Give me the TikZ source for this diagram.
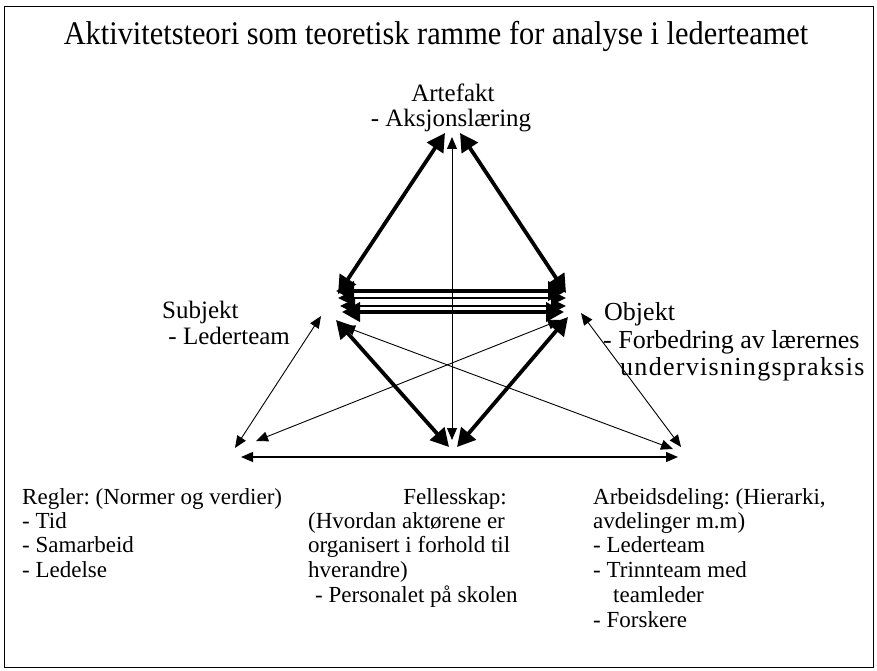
\documentclass[tikz,border=0pt]{standalone}
\usepackage{fontspec}
\setmainfont{Liberation Serif}
\usetikzlibrary{arrows.meta}
\frenchspacing
\begin{document}
\begin{tikzpicture}[x=1pt,y=-1pt,
  bigtip/.tip={Triangle[length=18pt,width=19pt]},
  midtip/.tip={Triangle[length=15pt,width=14pt]},
  smalltip/.tip={Triangle[length=12pt,width=10pt]},
  heavy/.style={line width=3.8pt,bigtip-bigtip},
  medium/.style={line width=2pt,midtip-midtip},
  light/.style={line width=0.9pt,smalltip-smalltip},
  lbl/.style={anchor=base west,inner sep=0pt,font=\fontsize{23}{25}\selectfont},
  clbl/.style={anchor=base,inner sep=0pt,font=\fontsize{23}{25}\selectfont},
  cornerfont/.style={font=\fontsize{25}{27}\selectfont}]
\useasboundingbox (0,0) rectangle (877,671);
\draw[line width=0.8pt] (4,6) rectangle (873,667);

% title and corner labels
\node[clbl,font=\fontsize{33}{36}\selectfont] (title) at (436,45) {\scalebox{0.92}[1]{Aktivitetsteori som teoretisk ramme for analyse i lederteamet}};
\node[clbl,cornerfont] (art) at (453,102) {Artefakt};
\node[clbl,cornerfont] (artb) at (451,127) {- Aksjonslæring};
\node[lbl,cornerfont] (subj) at (162,318) {Subjekt};
\node[lbl,cornerfont] (subjb) at (162,344) {\ - Lederteam};
\node[lbl,font=\fontsize{26}{28}\selectfont] (obj) at (604,320) {Objekt};
\node[lbl,font=\fontsize{26}{28}\selectfont] (objb) at (603,348) {- Forbedring av lærernes};
\node[lbl,font=\fontsize{26}{28}\selectfont\addfontfeatures{LetterSpace=5}] (objc) at (620,375) {undervisningspraksis};

% lower text blocks
\node[lbl] (r1) at (22,504) {Regler: (Normer og verdier)};
\node[lbl] (r2) at (22,528) {- Tid};
\node[lbl] (r3) at (22,552) {- Samarbeid};
\node[lbl] (r4) at (22,577) {- Ledelse};

\node[clbl] (f1) at (455,504) {Fellesskap:};
\node[lbl] (f2) at (308,528) {(Hvordan aktørene er};
\node[lbl] (f3) at (308,552) {organisert i forhold til};
\node[lbl] (f4) at (308,577) {hverandre)};
\node[lbl] (f5) at (315,602) {- Personalet på skolen};

\node[lbl] (a1) at (593,504) {Arbeidsdeling: (Hierarki,};
\node[lbl] (a2) at (593,528) {avdelinger m.m)};
\node[lbl] (a3) at (593,552) {- Lederteam};
\node[lbl] (a4) at (593,577) {- Trinnteam med};
\node[lbl] (a5) at (613,602) {teamleder};
\node[lbl] (a6) at (593,627) {- Forskere};

% end points of the connectors
\coordinate (topL) at (445,133);
\coordinate (topR) at (460,133);
\coordinate (topM) at (452,137);
\coordinate (sA) at (338,294);
\coordinate (oA) at (566,293);
\coordinate (s1) at (336,291);
\coordinate (o1) at (566,291);
\coordinate (s2) at (338,298);
\coordinate (o2) at (566,298);
\coordinate (s3) at (340,306);
\coordinate (o3) at (566,306);
\coordinate (s4) at (342,312);
\coordinate (o4) at (564,312);
\coordinate (sB) at (336,320);
\coordinate (oB) at (568,317);
\coordinate (botL) at (449,447);
\coordinate (botR) at (457,447);
\coordinate (botM) at (452,440);
\coordinate (sOut) at (321,316);
\coordinate (oOut) at (581,313);
\coordinate (sIn) at (343,326);
\coordinate (oIn) at (560,320);
\coordinate (blA) at (235,448);
\coordinate (blB) at (256,441);
\coordinate (brA) at (681,447);
\coordinate (brB) at (673,449);
\coordinate (bl) at (241,457);
\coordinate (br) at (678,457);

% upper triangle
\draw[heavy] (topL) -- (sA);
\draw[heavy] (topR) -- (oA);
\draw[light] (topM) -- (botM);

% subject - object links
\draw[heavy] (s1) -- (o1);
\draw[medium] (s2) -- (o2);
\draw[medium] (s3) -- (o3);
\draw[heavy] (s4) -- (o4);

% lower links
\draw[heavy] (sB) -- (botL);
\draw[heavy] (oB) -- (botR);
\draw[light] (sOut) -- (blA);
\draw[light] (oIn) -- (blB);
\draw[light] (sIn) -- (brB);
\draw[light] (oOut) -- (brA);
\draw[light,line width=1.3pt] (bl) -- (br);
\end{tikzpicture}
\end{document}
